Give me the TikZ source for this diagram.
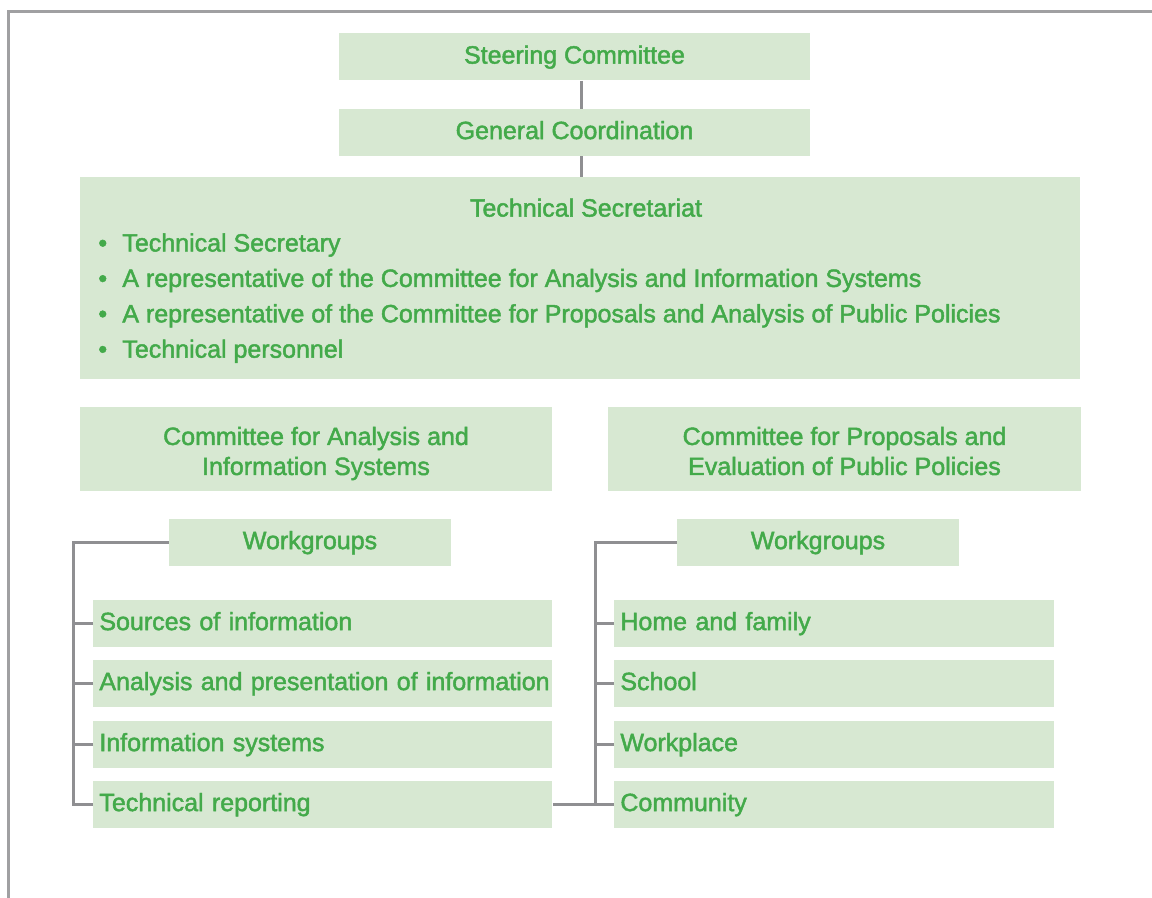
\documentclass[tikz,border=0pt]{standalone}
\usepackage{fontspec}
\newfontfamily\orgfont[FakeBold=1.8]{Liberation Sans}
\definecolor{panefill}{HTML}{D7E8D2}
\definecolor{panetext}{HTML}{43AA4A}
\definecolor{linkgray}{HTML}{8F8F92}
\tikzset{
  pane/.style={fill=panefill, text=panetext, font=\orgfont\fontsize{12.5}{15}\selectfont,
    inner sep=0pt, minimum height=23.5pt, text height=9.2pt, text depth=2.6pt},
  item/.style={pane, anchor=west, align=left, inner xsep=3pt},
  twoline/.style={pane, minimum height=42pt, align=center, text height=28pt, text depth=2pt},
  link/.style={draw=linkgray, line width=1.2pt},
  frameline/.style={draw=linkgray!85, line width=1.1pt}
}
\begin{document}
\begin{tikzpicture}[x=0.5pt, y=-0.5pt]
  \useasboundingbox (0,0) rectangle (1152,898);
  \draw[frameline] (8.5,898) |- (1152,11.5);
  \node[pane, minimum width=235.5pt] (steer) at (574.5,57) {Steering Committee};
  \node[pane, minimum width=235.5pt] (coord) at (574.5,132.5) {General Coordination};
  \node[pane, minimum width=500pt, minimum height=101pt, anchor=north west] (secr) at (80,177) {};
  \node[pane, fill=none] (secrt) at (586,210) {Technical Secretariat};
  \node[pane, fill=none, anchor=north west, align=left, text height=, text depth=,
    font=\orgfont\fontsize{12.5}{17.7}\selectfont] (secrl) at (98,233) {%
    \makebox[12pt][l]{\textbullet}Technical Secretary\\
    \makebox[12pt][l]{\textbullet}A representative of the Committee for Analysis and Information Systems\\
    \makebox[12pt][l]{\textbullet}A representative of the Committee for Proposals and Analysis of Public Policies\\
    \makebox[12pt][l]{\textbullet}Technical personnel};
  \node[twoline, minimum width=236pt] (cais) at (316,449)
    {Committee for Analysis and\\Information Systems};
  \node[twoline, minimum width=236.5pt] (cpep) at (844.5,449)
    {Committee for Proposals and\\Evaluation of Public Policies};
  \node[pane, minimum width=141pt] (wgl) at (310,542.5) {Workgroups};
  \node[pane, minimum width=141pt] (wgr) at (818,542.5) {Workgroups};
  \node[item, text width=223.5pt] (sl1) at (93,623.5) {Sources of information};
  \node[item, text width=223.5pt] (sl2) at (93,683.5) {\mbox{Analysis and presentation of information}};
  \node[item, text width=223.5pt] (sl3) at (93,744.5) {Information systems};
  \node[item, text width=223.5pt] (sl4) at (93,804.5) {Technical reporting};
  \node[item, text width=214pt] (sr1) at (614,623.5) {Home and family};
  \node[item, text width=214pt] (sr2) at (614,683.5) {School};
  \node[item, text width=214pt] (sr3) at (614,744.5) {Workplace};
  \node[item, text width=214pt] (sr4) at (614,804.5) {Community};
  \path[link]
    ([xshift=3.5pt]steer.south) edge ([xshift=3.5pt]coord.north)
    ([xshift=3.5pt]coord.south) edge ([xshift=3.5pt]coord.south |- secr.north)
    (sl1.west) edge ++(-19,0)
    (sl2.west) edge ++(-19,0)
    (sl3.west) edge ++(-19,0)
    (sr1.west) edge ++(-18,0)
    (sr2.west) edge ++(-18,0)
    (sr3.west) edge ++(-18,0)
    (sl4.east) edge (sr4.west);
  \draw[link] (wgl.west) -- ++(-95,0) |- (sl4.west);
  \draw[link] (wgr.west) -- ++(-81,0) |- (sr4.west);
\end{tikzpicture}
\end{document}
